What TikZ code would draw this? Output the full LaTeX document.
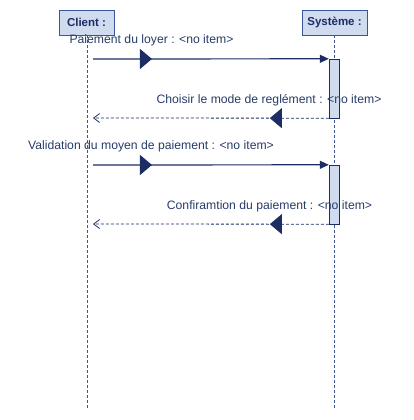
\documentclass[tikz,border=0pt]{standalone}
\usepackage{fontspec}
\setmainfont{Liberation Sans}
\usepackage{tikz}
\usetikzlibrary{arrows.meta,positioning,decorations.markings}

\definecolor{navy}{RGB}{27,45,100}
\definecolor{lifecol}{RGB}{60,85,150}
\definecolor{boxfill}{RGB}{208,219,240}
\definecolor{txtcol}{RGB}{40,60,105}

\tikzset{
  objbox/.style={draw=lifecol,fill=boxfill,thick,minimum height=25pt,
    font=\fontsize{11.5}{13}\selectfont\bfseries,text=navy,inner sep=0pt},
  lifeline/.style={draw=lifecol,thick,dash pattern=on 3pt off 2pt},
  actbar/.style={draw=navy,fill=boxfill,minimum width=10pt,inner sep=0pt},
  msglabel/.style={font=\fontsize{12.2}{14}\selectfont,text=txtcol,inner sep=0pt},
  midtip/.style={postaction={decorate},decoration={markings,
    mark=at position 0.25 with {\arrow{Triangle[length=12pt,width=20pt]}}}},
  call/.style={draw=navy,line width=1.2pt,midtip,-{Triangle[length=9pt,width=8pt]}},
  reply/.style={draw=navy,thick,midtip,dash pattern=on 3pt off 2pt,
    -{Straight Barb[length=6pt,width=9pt]}}
}

\begin{document}
\begin{tikzpicture}[x=1pt,y=-1pt]
\useasboundingbox (0,0) rectangle (413,420);
% objects
\node[objbox,minimum width=55pt] (client) at (86.5,22.5) {Client :};
\node[objbox,minimum width=65pt] (systeme) at (334.5,22.5) {Système :};
\coordinate (clientend) at (87.5,410);
\coordinate (systemeend) at (334,410);
\draw[lifeline] (client.south -| clientend) -- (clientend);
\draw[lifeline] (systeme.south -| systemeend) -- (systemeend);
% activations
\node[actbar,minimum height=59pt] (act1) at (334,88.5) {};
\node[actbar,minimum height=59pt] (act2) at (334,194.5) {};
% messages
\coordinate (c1) at (93,59);
\coordinate (c2) at (93,118);
\coordinate (c3) at (93,165);
\coordinate (c4) at (93,224);
\draw[call] (c1) -- (act1.north west);
\node[msglabel] (m1) at (151.5,40) {Paiement du loyer : <no item>};
\draw[reply] (act1.south west) -- (c2);
\node[msglabel] (m2) at (269,100) {Choisir le mode de reglément : <no item>};
\draw[call] (c3) -- (act2.north west);
\node[msglabel] (m3) at (151,146) {Validation du moyen de paiement : <no item>};
\draw[reply] (act2.south west) -- (c4);
\node[msglabel] (m4) at (269.5,206) {Confiramtion du paiement : <no item>};
\end{tikzpicture}
\end{document}
